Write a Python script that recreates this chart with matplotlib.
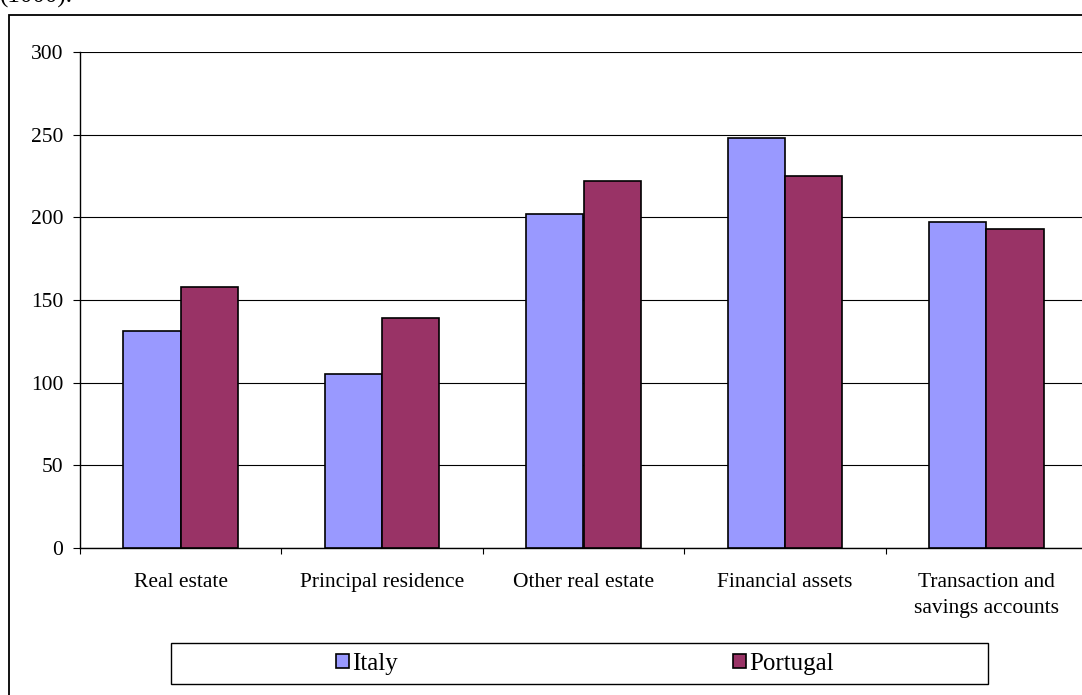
import numpy as np
import matplotlib
matplotlib.use("Agg")
import matplotlib.pyplot as plt
from matplotlib.patches import Rectangle

categories = ["Real estate", "Principal residence", "Other real estate",
              "Financial assets", "Transaction and\nsavings accounts"]
italy = [131, 105, 202, 248, 197]
portugal = [158, 139, 222, 225, 193]
yticks = [0, 50, 100, 150, 200, 250, 300]

plt.rcParams['font.family'] = ['Liberation Serif', 'DejaVu Serif']

W, H = 1082, 695
fig = plt.figure(figsize=(W / 100, H / 100), dpi=100)

# outer chart frame, runs off the right and bottom edges
fig.patches.append(Rectangle((9 / W, -0.1), 1.2, 1 - 15 / H + 0.1,
                             transform=fig.transFigure, fill=False,
                             edgecolor='black', lw=1.3, clip_on=False))
fig.text(0.0, 1 - 3 / H, "(1000).", fontsize=18, va='baseline', ha='left')

ax = fig.add_axes([80 / W, (H - 548) / H, 1007 / W, 496 / H])

x = np.arange(len(categories))
bw = 0.285
ax.bar(x - bw / 2, italy, bw, color='#9999FF', edgecolor='black', lw=1.2,
       label='Italy', zorder=3)
ax.bar(x + bw / 2, portugal, bw, color='#993366', edgecolor='black', lw=1.2,
       label='Portugal', zorder=3)

ax.set_ylim(0, 300)
ax.set_xlim(-0.5, len(categories) - 0.5)
ax.set_yticks(yticks)
ax.yaxis.grid(True, color='black', lw=0.8, zorder=0)
ax.set_xticks(x)
ax.set_xticklabels(categories, fontsize=15.5, linespacing=1.5)
ax.set_xticks(np.arange(len(categories) + 1) - 0.5, minor=True)
ax.tick_params(axis='x', which='major', length=0, pad=18)
ax.tick_params(axis='x', which='minor', length=4.5, width=0.8, direction='out')
ax.tick_params(axis='y', length=5, width=0.8, labelsize=15.5, pad=7)
for s in ['top', 'right']:
    ax.spines[s].set_visible(False)
ax.spines['left'].set_linewidth(1)
ax.spines['bottom'].set_linewidth(1)

# legend box
fig.patches.append(Rectangle((171 / W, (H - 684) / H), 817 / W, 41 / H,
                             transform=fig.transFigure, fill=False,
                             edgecolor='black', lw=1.0))
leg = fig.legend(loc='center left', ncol=2,
                 bbox_to_anchor=(336 / W, (H - 664) / H),
                 frameon=False, fontsize=18, handlelength=0.5,
                 handleheight=0.5, handletextpad=0.15, columnspacing=13.4,
                 borderpad=0.0, borderaxespad=0.0)

fig.savefig("out.png", dpi=100)
